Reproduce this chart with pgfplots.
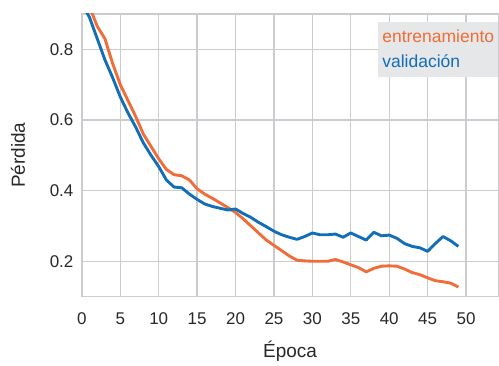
\documentclass[border=0pt]{standalone}
\usepackage{pgfplots}
\pgfplotsset{compat=1.18}
\usepackage{fontspec}
\setmainfont{Liberation Sans}
\setsansfont{Liberation Sans}
\definecolor{trainc}{RGB}{240,108,56}
\definecolor{valc}{RGB}{18,110,182}
\definecolor{gridc}{RGB}{204,204,208}
\definecolor{legc}{RGB}{230,231,232}
\definecolor{txtc}{RGB}{40,40,40}
\begin{document}
\begin{tikzpicture}
\begin{axis}[
  scale only axis, width=417pt, height=283pt,
  xmin=0, xmax=54.2, ymin=0.1, ymax=0.9,
  xtick={0,5,...,50}, ytick={0.2,0.4,0.6,0.8},
  yticklabel style={/pgf/number format/fixed, /pgf/number format/precision=1, /pgf/number format/fixed zerofill},
  grid=major, major grid style={gridc, line width=1.4pt},
  axis line style={gridc, line width=1.4pt},
  major tick length=0pt,
  /pgf/number format/assume math mode=true,
  tick label style={font=\fontsize{17}{20}\selectfont, text=txtc},
  xticklabel style={yshift=-13pt},
  yticklabel style={xshift=-5pt},
  xlabel={Época}, ylabel={Pérdida},
  label style={font=\fontsize{19}{22}\selectfont, text=txtc},
  xlabel style={at={(axis description cs:0.5,0)}, anchor=center, yshift=-55pt},
  ylabel style={at={(axis description cs:0,0.5)}, anchor=center, yshift=64pt},
  legend style={at={(1,1)}, anchor=north east, yshift=-8pt, fill=legc, draw=none,
    font=\fontsize{17.5}{20}\selectfont, inner xsep=2pt, inner ysep=6pt, row sep=6.5pt},
  legend cell align=left,
  legend image code/.code={},
]
\addplot[trainc, line width=2.9pt, line join=round] coordinates {
(0,0.97) (1,0.92) (2,0.865) (3,0.83) (4,0.76) (5,0.70) (6,0.655) (7,0.61) (8,0.56) (9,0.525)
(10,0.49) (11,0.46) (12,0.445) (13,0.442) (14,0.43) (15,0.405) (16,0.39) (17,0.378) (18,0.365) (19,0.352)
(20,0.338) (21,0.32) (22,0.30) (23,0.28) (24,0.26) (25,0.245) (26,0.23) (27,0.215) (28,0.203) (29,0.201)
(30,0.20) (31,0.20) (32,0.20) (33,0.205) (34,0.198) (35,0.19) (36,0.182) (37,0.17) (38,0.18) (39,0.186)
(40,0.187) (41,0.186) (42,0.178) (43,0.168) (44,0.162) (45,0.153) (46,0.145) (47,0.142) (48,0.138) (49,0.127)
};
\addlegendentry{\textcolor{trainc}{entrenamiento}}
\addplot[valc, line width=2.9pt, line join=round] coordinates {
(0,0.93) (1,0.89) (2,0.83) (3,0.77) (4,0.72) (5,0.665) (6,0.62) (7,0.58) (8,0.535) (9,0.50)
(10,0.468) (11,0.43) (12,0.41) (13,0.408) (14,0.39) (15,0.375) (16,0.362) (17,0.355) (18,0.35) (19,0.345)
(20,0.348) (21,0.335) (22,0.324) (23,0.31) (24,0.298) (25,0.285) (26,0.275) (27,0.268) (28,0.262) (29,0.27)
(30,0.28) (31,0.275) (32,0.275) (33,0.277) (34,0.268) (35,0.28) (36,0.27) (37,0.26) (38,0.282) (39,0.272)
(40,0.274) (41,0.265) (42,0.25) (43,0.242) (44,0.238) (45,0.228) (46,0.25) (47,0.27) (48,0.258) (49,0.242)
};
\addlegendentry{\textcolor{valc}{validación}}
\end{axis}
\path ([xshift=-82pt,yshift=14pt]current axis.north west) rectangle ([yshift=-68pt]current axis.south east);
\end{tikzpicture}
\end{document}
